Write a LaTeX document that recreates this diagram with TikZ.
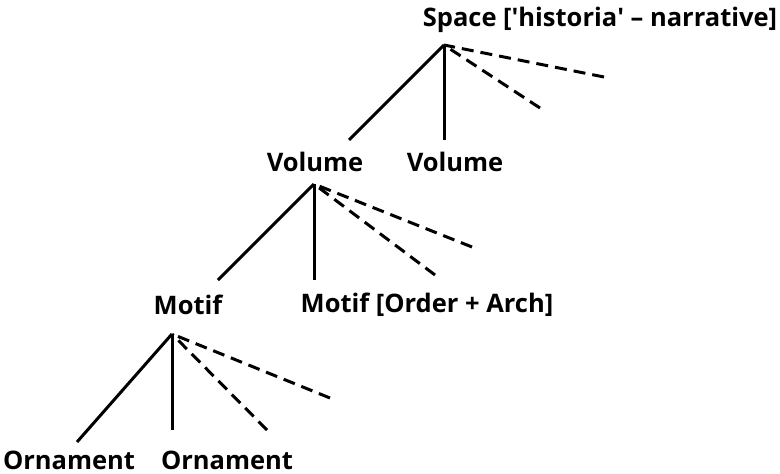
\documentclass[tikz,border=0pt]{standalone}
\usepackage{fontspec}
\setmainfont{Open Sans}
\begin{document}
\begin{tikzpicture}[x=1pt,y=-1pt,
  label/.style={font=\bfseries\fontsize{25.5}{27}\selectfont, inner sep=0pt, anchor=center},
  branch/.style={line width=3pt, line cap=butt},
  open/.style={branch, dash pattern=on 12pt off 7pt}]
\useasboundingbox (0,0) rectangle (780,474);

% labels
\node[label] (space) at (600,20) {Space [\textquotesingle historia\textquotesingle{} -- narrative]};
\node[label] (vol1) at (315,162) {Volume};
\node[label] (vol2) at (455,162) {Volume};
\node[label] (mot1) at (188,305) {Motif};
\node[label] (mot2) at (427,305) {Motif [Order + Arch]};
\node[label] (orn1) at (69,460) {Ornament};
\node[label] (orn2) at (227,460) {Ornament};

% branching points and free ends
\coordinate (a1) at (444,45);
\coordinate (a1l) at (349,140);
\coordinate (a1v) at (444,140);
\coordinate (a1d1) at (604,77);
\coordinate (a1d2) at (540,108);

\coordinate (a2) at (314,184);
\coordinate (a2l) at (218,280);
\coordinate (a2v) at (314,280);
\coordinate (a2d1) at (472,247);
\coordinate (a2d2) at (435,275);

\coordinate (a3) at (172,334);
\coordinate (a3l) at (77,442);
\coordinate (a3v) at (172,430);
\coordinate (a3d1) at (330,398);
\coordinate (a3d2) at (267,430);

% branches: solid ones down from each fork, open ones drawn inward so
% each starts with a whole dash at its free end
\foreach \p in {a1,a2,a3}{
  \draw[branch] (\p) -- (\p l);
  \draw[branch] (\p) -- (\p v);
  \draw[open] (\p d1) -- (\p);
  \draw[open] (\p d2) -- (\p);
}
\end{tikzpicture}
\end{document}
